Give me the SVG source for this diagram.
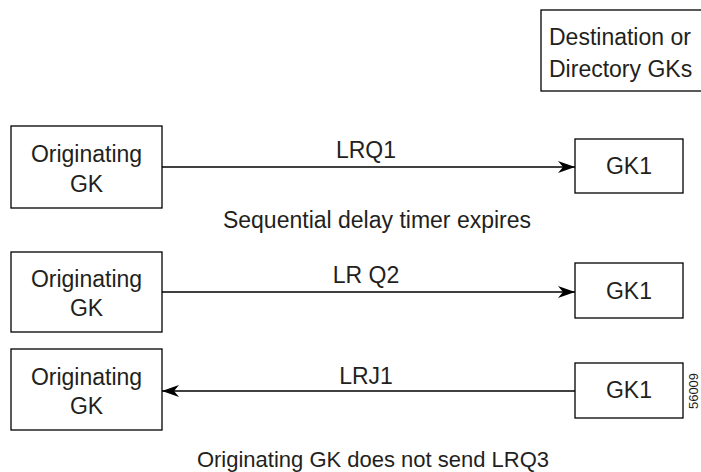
<svg xmlns="http://www.w3.org/2000/svg" width="701" height="472" viewBox="0 0 701 472">
<style>
.box{fill:#fff;stroke:#000;stroke-width:1.3}
.t{font-family:"Liberation Sans",Arial,sans-serif;font-size:23px;fill:#231f20}
.c{text-anchor:middle}
.ln{stroke:#000;stroke-width:1.3;fill:none}
</style>
<defs>
<marker id="ah" markerWidth="18" markerHeight="12" refX="17" refY="6" orient="auto" markerUnits="userSpaceOnUse">
<path d="M0,0 L17,6 L0,12 L5,6 Z" fill="#000"/>
</marker>
</defs>
<rect width="701" height="472" fill="#fff"/>
<g id="dest">
<rect class="box" x="541" y="10" width="170" height="81"/>
<text class="t" x="549" y="45">Destination or</text>
<text class="t" x="549" y="77">Directory GKs</text>
</g>
<g id="orig1">
<rect class="box" x="11" y="126" width="151" height="82"/>
<text class="t c" x="86.5" y="162">Originating</text>
<text class="t c" x="86.5" y="192">GK</text>
</g>
<g id="gk1a">
<rect class="box" x="575" y="139" width="108" height="54"/>
<text class="t c" x="629" y="174">GK1</text>
</g>
<g id="orig2">
<rect class="box" x="11" y="252" width="151" height="80"/>
<text class="t c" x="86.5" y="287">Originating</text>
<text class="t c" x="86.5" y="316">GK</text>
</g>
<g id="gk1b">
<rect class="box" x="575" y="263" width="108" height="55"/>
<text class="t c" x="629" y="299">GK1</text>
</g>
<g id="orig3">
<rect class="box" x="11" y="349" width="151" height="81"/>
<text class="t c" x="86.5" y="385">Originating</text>
<text class="t c" x="86.5" y="414">GK</text>
</g>
<g id="gk1c">
<rect class="box" x="575" y="363" width="108" height="55"/>
<text class="t c" x="629" y="398">GK1</text>
</g>
<g id="connectors">
<line class="ln" x1="162" y1="167" x2="575" y2="167" marker-end="url(#ah)"/>
<line class="ln" x1="162" y1="292" x2="575" y2="292" marker-end="url(#ah)"/>
<line class="ln" x1="575" y1="391" x2="162" y2="391" marker-end="url(#ah)"/>
</g>
<text class="t c" x="366" y="158">LRQ1</text>
<text class="t c" x="377" y="228">Sequential delay timer expires</text>
<text class="t c" x="366" y="283">LR Q2</text>
<text class="t c" x="366" y="384">LRJ1</text>
<text class="t c" x="373" y="467" style="font-size:22px">Originating GK does not send LRQ3</text>
<text font-family="Liberation Sans,Arial,sans-serif" font-size="13" fill="#231f20" text-anchor="middle" transform="translate(698,391) rotate(-90)">56009</text>
</svg>
